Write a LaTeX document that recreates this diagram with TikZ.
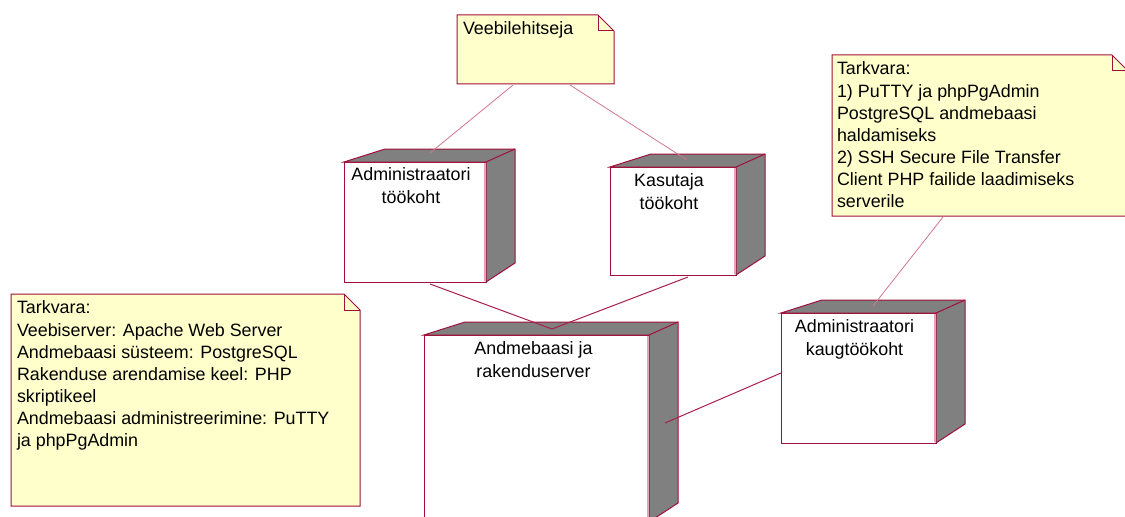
\documentclass[tikz,border=0pt]{standalone}
\usepackage{fontspec}
\setmainfont{Liberation Sans}
\definecolor{rosered}{HTML}{A0103C}
\definecolor{linkred}{HTML}{A8204C}
\definecolor{notelink}{HTML}{D07890}
\definecolor{innerpink}{HTML}{E8A0B4}
\definecolor{notefill}{HTML}{FFFFCC}
\definecolor{facegray}{HTML}{808080}
\tikzset{
  wh/.style 2 args={minimum width=#1*0.75pt, minimum height=#2*0.75pt},
  frontbox/.style={draw=rosered, fill=white, line width=0.75pt, inner sep=0pt, outer sep=0pt, anchor=north west},
  noteholder/.style={inner sep=0pt, outer sep=0pt, anchor=north west},
  depthface/.style={draw=rosered, fill=facegray, line width=0.75pt, line join=miter},
  noteshape/.style={draw=rosered, fill=notefill, line width=0.75pt},
  lbl/.style={font=\fontsize{13.4}{16.6}\selectfont, inner sep=0pt, outer sep=0pt},
  nodelbl/.style={lbl, align=center, anchor=north},
  notelbl/.style={lbl, align=left, anchor=north west},
  nodelink/.style={draw=linkred, line width=0.75pt},
  notelinkline/.style={draw=notelink, line width=0.6pt},
}
% top and right faces of a 3D deployment node
\newcommand\nodedepth[1]{%
  \filldraw[depthface] (#1.north west) -- ([shift={(41,-13)}]#1.north west)
    -- ([shift={(29,-13)}]#1.north east) -- ([shift={(29,-19)}]#1.south east)
    -- (#1.south east) -- (#1.north east) -- cycle;
  \draw[depthface] (#1.north east) -- ([shift={(29,-13)}]#1.north east);
  \draw[innerpink, line width=1pt] ([shift={(-1.6,1)}]#1.north east) -- ([shift={(-1.6,-1)}]#1.south east);
}
% note outline with a folded corner
\newcommand\noteoutline[1]{%
  \filldraw[noteshape] (#1.north west) -- ([shift={(-16,0)}]#1.north east)
    -- ([shift={(0,16)}]#1.north east) -- (#1.south east) -- (#1.south west) -- cycle;
  \draw[noteshape, fill=none] ([shift={(-16,0)}]#1.north east)
    -- ([shift={(-16,16)}]#1.north east) -- ([shift={(0,16)}]#1.north east);
}
\begin{document}
\begin{tikzpicture}[x=0.75pt, y=-0.75pt]
\useasboundingbox (0,0) rectangle (1125,517);
\clip (0,0) rectangle (1125,517);
\fill[white] (0,0) rectangle (1125,517);

% notes
\node[noteholder, wh={157}{69}] (web) at (457,15) {};
\noteoutline{web}
\node[notelbl] (weblbl) at ([shift={(6,7)}]web.north west) {Veebilehitseja};

\node[noteholder, wh={296}{161}] (rnote) at (832,55) {};
\noteoutline{rnote}
\node[notelbl] (rnotelbl) at ([shift={(5,7)}]rnote.north west)
  {Tarkvara:\\1) PuTTY ja phpPgAdmin\\PostgreSQL andmebaasi\\haldamiseks\\2) SSH Secure File Transfer\\Client PHP failide laadimiseks\\serverile};

\node[noteholder, wh={349}{212}] (lnote) at (11,294) {};
\noteoutline{lnote}
\node[notelbl] (lnotelbl) at ([shift={(6,7)}]lnote.north west)
  {Tarkvara:\\Veebiserver: Apache Web Server\\Andmebaasi süsteem: PostgreSQL\\Rakenduse arendamise keel: PHP\\skriptikeel\\Andmebaasi administreerimine: PuTTY\\ja phpPgAdmin};

% deployment nodes
\node[frontbox, wh={142}{120}] (admin) at (344,162) {};
\nodedepth{admin}
\node[nodelbl] (adminlbl) at ([shift={(-4,6)}]admin.north) {Administraatori\\töökoht};

\node[frontbox, wh={126}{108}] (kasutaja) at (610,167) {};
\nodedepth{kasutaja}
\node[nodelbl] (kasutajalbl) at ([shift={(-4,7)}]kasutaja.north) {Kasutaja\\töökoht};

\node[frontbox, wh={225}{187}] (server) at (424,335) {};
\nodedepth{server}
\node[nodelbl] (serverlbl) at ([shift={(-3,7)}]server.north) {Andmebaasi ja\\rakenduserver};

\node[frontbox, wh={155}{130}] (kaug) at (781,313) {};
\nodedepth{kaug}
\node[nodelbl] (kauglbl) at ([shift={(-4,7)}]kaug.north) {Administraatori\\kaugtöökoht};

% note attachments
\draw[notelinkline] ([shift={(56,1)}]web.south west) -- ([shift={(86,-9)}]admin.north west);
\draw[notelinkline] ([shift={(113,1)}]web.south west) -- ([shift={(77,-7)}]kasutaja.north west);
\draw[notelinkline] ([shift={(111,1)}]rnote.south west) -- ([shift={(92,-7)}]kaug.north west);

% communication links
\draw[nodelink] ([shift={(86,2)}]admin.south west) -- ([shift={(128,-6)}]server.north west);
\draw[nodelink] ([shift={(78,2)}]kasutaja.south west) -- ([shift={(128,-6)}]server.north west);
\draw[nodelink] ([shift={(16,88)}]server.north east) -- ([shift={(0,60)}]kaug.north west);
\end{tikzpicture}
\end{document}
